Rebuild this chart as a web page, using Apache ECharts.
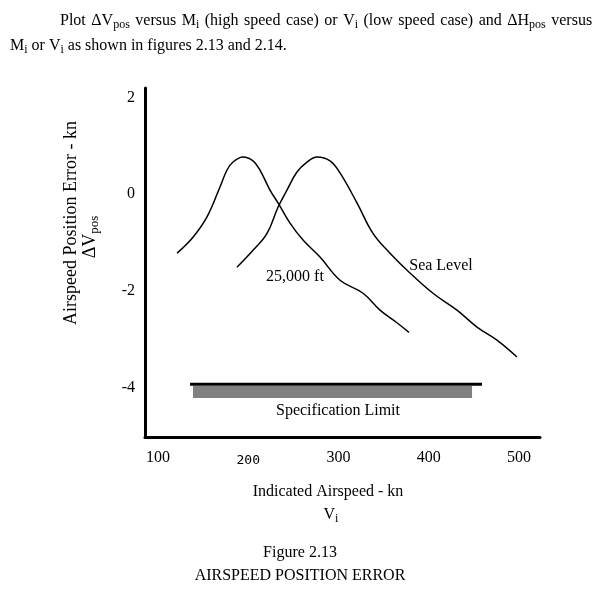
<!DOCTYPE html>
<html>
<head>
<meta charset="utf-8">
<script src="https://cdn.jsdelivr.net/npm/echarts@6/dist/echarts.min.js"></script>
<style>html,body{margin:0;padding:0;background:#fff;}#c{width:606px;height:593px;}</style>
</head>
<body>
<div id="c"></div>
<script>
// ---- data ----
const xTicks = [100, 200, 300, 400, 500];
const yTicks = [2, 0, -2, -4];
const alt25kX = [121.1, 138.8, 154.3, 168.7, 176.5, 183.1, 194.2, 205.3, 213.0, 224.1, 233.0, 246.3, 260.7, 279.5, 301.7, 327.2, 346.0, 364.8, 378.1];
const alt25kY = [-1.22, -0.89, -0.47, 0.15, 0.50, 0.665, 0.77, 0.69, 0.50, 0.085, -0.18, -0.60, -0.95, -1.30, -1.78, -2.05, -2.40, -2.66, -2.86];
const seaX = [187.5, 205.3, 220.8, 233.0, 242.9, 254.0, 265.1, 276.2, 290.6, 301.7, 320.5, 338.2, 357.1, 379.2, 404.7, 431.3, 453.5, 475.6, 497.8];
const seaY = [-1.51, -1.16, -0.81, -0.27, 0.085, 0.46, 0.665, 0.77, 0.69, 0.44, -0.18, -0.81, -1.22, -1.63, -2.05, -2.40, -2.75, -3.02, -3.37];
const specLineX = [135.5, 459];
const specLineY = -3.93;
const specBarX = [138.8, 448];
const specBarY = -4.095;

const pairs = (xs, ys) => xs.map((x, i) => [x, Array.isArray(ys) ? ys[i] : ys]);
const F = 'Liberation Serif';
const chart = echarts.init(document.getElementById('c'), null, {renderer: 'canvas'});

const baseRich = {
  n: {fontFamily: F, fontSize: 16, color: '#000', lineHeight: 20, verticalAlign: 'middle'},
  s: {fontFamily: F, fontSize: 12, color: '#000', lineHeight: 12, verticalAlign: 'bottom'},
  sp: {fontFamily: F, fontSize: 16, color: '#000', lineHeight: 20, verticalAlign: 'middle', width: 5.5}
};
const bigRich = {
  n: {fontFamily: F, fontSize: 18, color: '#000', lineHeight: 22, verticalAlign: 'middle'},
  s: {fontFamily: F, fontSize: 13, color: '#000', lineHeight: 13, verticalAlign: 'bottom'}
};

// justified first line: words joined with widened spaces
const line1 = ['{n|Plot}', '{n|ΔV}{s|pos}', '{n|versus}', '{n|M}{s|i}', '{n|(high}', '{n|speed}', '{n|case)}',
  '{n|or}', '{n|V}{s|i}', '{n|(low}', '{n|speed}', '{n|case)}', '{n|and}', '{n|ΔH}{s|pos}', '{n|versus}'].join('{sp| }');

chart.setOption({
  backgroundColor: '#fff',
  animation: false,
  grid: {left: 145, top: 88, width: 395, height: 349, containLabel: false},
  xAxis: {
    type: 'value', min: 85.6, max: 523.3,
    axisLine: {show: true, onZero: false, lineStyle: {color: '#000', width: 3}},
    axisTick: {show: false},
    splitLine: {show: false},
    axisLabel: {
      customValues: xTicks, margin: 13,
      fontFamily: F, fontSize: 16, color: '#000',
      formatter: v => v === 200 ? '{m|200}' : String(v),
      rich: {m: {fontFamily: 'DejaVu Sans Mono', fontSize: 13, color: '#000', padding: [4, 0, 0, 0]}}
    }
  },
  yAxis: {
    type: 'value', min: -5.024, max: 2.197,
    axisLine: {show: true, onZero: false, lineStyle: {color: '#000', width: 3}},
    axisTick: {show: false},
    splitLine: {show: false},
    axisLabel: {customValues: yTicks, margin: 10, fontFamily: F, fontSize: 16, color: '#000'}
  },
  series: [
    {type: 'line', name: '25,000 ft', data: pairs(alt25kX, alt25kY), smooth: 0.4, showSymbol: false,
     lineStyle: {color: '#000', width: 1.5}},
    {type: 'line', name: 'Sea Level', data: pairs(seaX, seaY), smooth: 0.4, showSymbol: false,
     lineStyle: {color: '#000', width: 1.5}},
    {type: 'line', name: 'Spec bar', data: pairs(specBarX, specBarY), showSymbol: false,
     lineStyle: {color: '#808080', width: 12, cap: 'butt'}},
    {type: 'line', name: 'Spec line', data: pairs(specLineX, specLineY), showSymbol: false,
     lineStyle: {color: '#000', width: 3, cap: 'butt'}}
  ],
  graphic: [
    {type: 'text', left: 60, top: 13, style: {text: line1, rich: baseRich}},
    {type: 'text', left: 10, top: 38, style: {
      text: '{n|M}{s|i}{n| or V}{s|i}{n| as shown in figures 2.13 and 2.14.}',
      rich: baseRich}},
    {type: 'text', x: 71, y: 223, rotation: Math.PI / 2, style: {
      text: 'Airspeed Position Error - kn', fontFamily: F, fontSize: 18, fill: '#000',
      align: 'center', verticalAlign: 'middle'}},
    {type: 'text', x: 90, y: 237, rotation: Math.PI / 2, style: {
      text: '{n|ΔV}{s|pos}', rich: bigRich, align: 'center', verticalAlign: 'middle'}},
    {type: 'text', x: 328, y: 492, style: {
      text: 'Indicated Airspeed - kn', fontFamily: F, fontSize: 16, fill: '#000',
      align: 'center', verticalAlign: 'middle'}},
    {type: 'text', x: 331, y: 515, style: {
      text: '{n|V}{s|i}', rich: baseRich, align: 'center', verticalAlign: 'middle'}},
    {type: 'text', x: 295, y: 277, style: {
      text: '25,000 ft', fontFamily: F, fontSize: 16, fill: '#000', align: 'center', verticalAlign: 'middle'}},
    {type: 'text', x: 441, y: 266, style: {
      text: 'Sea Level', fontFamily: F, fontSize: 16, fill: '#000', align: 'center', verticalAlign: 'middle'}},
    {type: 'text', x: 338, y: 411, style: {
      text: 'Specification Limit', fontFamily: F, fontSize: 16, fill: '#000', align: 'center', verticalAlign: 'middle'}},
    {type: 'text', x: 300, y: 553, style: {
      text: 'Figure 2.13', fontFamily: F, fontSize: 16, fill: '#000', align: 'center', verticalAlign: 'middle'}},
    {type: 'text', x: 300, y: 576, style: {
      text: 'AIRSPEED POSITION ERROR', fontFamily: F, fontSize: 16, fill: '#000', align: 'center', verticalAlign: 'middle'}}
  ]
});
</script>
</body>
</html>
